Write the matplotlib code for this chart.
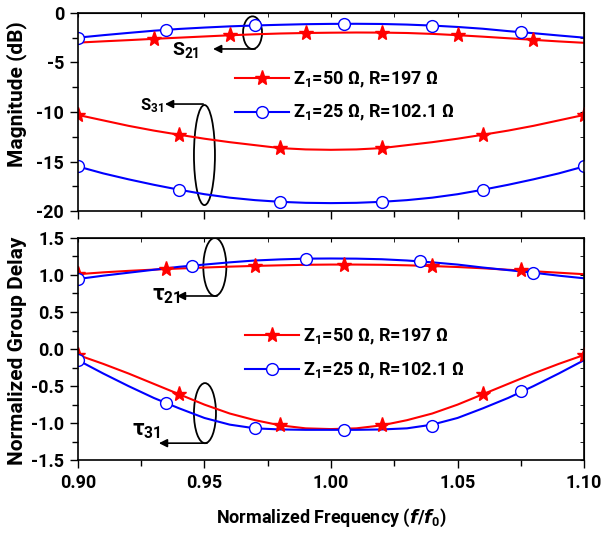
import numpy as np
import matplotlib
matplotlib.use('Agg')
import matplotlib.pyplot as plt
from matplotlib.patches import Ellipse
from matplotlib.lines import Line2D

plt.rcParams['font.family'] = ['Roboto', 'Liberation Sans', 'DejaVu Sans']
plt.rcParams['font.weight'] = 'bold'
plt.rcParams['axes.labelweight'] = 'bold'
plt.rcParams['axes.unicode_minus'] = False
plt.rcParams['mathtext.fontset'] = 'custom'
plt.rcParams['mathtext.rm'] = 'Roboto:bold'
plt.rcParams['mathtext.it'] = 'DejaVu Sans:bold:oblique'
plt.rcParams['mathtext.bf'] = 'Roboto:bold'
plt.rcParams['mathtext.default'] = 'rm'

# normalized frequency grid for the curves
freq = [0.90, 0.91, 0.92, 0.93, 0.94, 0.95, 0.96, 0.97, 0.98, 0.99, 1.00,
        1.01, 1.02, 1.03, 1.04, 1.05, 1.06, 1.07, 1.08, 1.09, 1.10]

# magnitude (dB)
s21_z50 = [-3.0, -2.87, -2.75, -2.62, -2.5, -2.38, -2.26, -2.16, -2.08, -2.03, -2.0,
           -1.98, -1.99, -2.03, -2.12, -2.25, -2.4, -2.56, -2.72, -2.88, -3.02]
s21_z25 = [-2.5, -2.25, -2.02, -1.8, -1.62, -1.48, -1.36, -1.27, -1.2, -1.14, -1.11,
           -1.1, -1.12, -1.18, -1.28, -1.42, -1.6, -1.84, -2.05, -2.28, -2.5]
s31_z50 = [-10.3, -10.85, -11.4, -11.88, -12.3, -12.7, -13.05, -13.35, -13.65, -13.78, -13.82,
           -13.78, -13.65, -13.35, -13.05, -12.7, -12.3, -11.88, -11.4, -10.85, -10.3]
s31_z25 = [-15.5, -16.2, -16.8, -17.35, -17.85, -18.3, -18.65, -18.9, -19.07, -19.17, -19.2,
           -19.17, -19.07, -18.9, -18.65, -18.3, -17.85, -17.35, -16.8, -16.2, -15.5]

# normalized group delay
t21_z50 = [1.01, 1.035, 1.055, 1.072, 1.087, 1.1, 1.112, 1.122, 1.13, 1.137, 1.14,
           1.14, 1.137, 1.13, 1.12, 1.107, 1.09, 1.07, 1.05, 1.03, 1.01]
t21_z25 = [0.945, 0.99, 1.03, 1.07, 1.11, 1.14, 1.17, 1.195, 1.21, 1.22, 1.222,
           1.22, 1.212, 1.195, 1.17, 1.14, 1.1, 1.065, 1.03, 0.99, 0.955]
t31_z50 = [-0.08, -0.2, -0.33, -0.47, -0.61, -0.75, -0.87, -0.96, -1.03, -1.07, -1.08,
           -1.07, -1.03, -0.96, -0.87, -0.75, -0.61, -0.47, -0.33, -0.2, -0.08]
t31_z25 = [-0.15, -0.33, -0.5, -0.66, -0.8, -0.93, -1.02, -1.07, -1.085, -1.09, -1.09,
           -1.09, -1.085, -1.07, -1.02, -0.93, -0.8, -0.66, -0.5, -0.33, -0.15]

# marker positions
s21_z50_mx = [0.93, 0.96, 0.99, 1.02, 1.05, 1.08]
s21_z50_my = [-2.62, -2.26, -2.03, -1.99, -2.25, -2.72]
s21_z25_mx = [0.90, 0.935, 0.97, 1.005, 1.04, 1.075]
s21_z25_my = [-2.5, -1.71, -1.27, -1.1, -1.28, -1.95]
s31_z50_mx = [0.90, 0.94, 0.98, 1.02, 1.06, 1.10]
s31_z50_my = [-10.3, -12.3, -13.65, -13.65, -12.3, -10.3]
s31_z25_mx = [0.90, 0.94, 0.98, 1.02, 1.06, 1.10]
s31_z25_my = [-15.5, -17.85, -19.07, -19.07, -17.85, -15.5]
t21_z50_mx = [0.90, 0.935, 0.97, 1.005, 1.04, 1.075]
t21_z50_my = [1.01, 1.08, 1.122, 1.14, 1.12, 1.06]
t21_z25_mx = [0.90, 0.945, 0.99, 1.035, 1.08]
t21_z25_my = [0.945, 1.125, 1.22, 1.183, 1.03]
t31_z50_mx = [0.90, 0.94, 0.98, 1.02, 1.06, 1.10]
t31_z50_my = [-0.08, -0.61, -1.03, -1.03, -0.61, -0.08]
t31_z25_mx = [0.90, 0.935, 0.97, 1.005, 1.04, 1.075]
t31_z25_my = [-0.15, -0.73, -1.07, -1.09, -1.045, -0.57]

labels = ['Z$_1$=50 Ω, R=197 Ω', 'Z$_1$=25 Ω, R=102.1 Ω']

red = '#ff0000'
blue = '#0000ff'
lw = 1.5
star = dict(marker='*', markersize=11, color=red, markeredgecolor=red, linestyle='none')
circ = dict(marker='o', markersize=8.5, markerfacecolor='white', markeredgecolor=blue,
            markeredgewidth=1.0, linestyle='none')

fig = plt.figure(figsize=(6.04, 5.37), dpi=100)
ax1 = fig.add_axes([0.129, 0.607, 0.838, 0.369])
ax2 = fig.add_axes([0.129, 0.143, 0.838, 0.414])

ax1.plot(freq, s21_z50, color=red, lw=lw)
ax1.plot(freq, s21_z25, color=blue, lw=lw)
ax1.plot(freq, s31_z50, color=red, lw=lw)
ax1.plot(freq, s31_z25, color=blue, lw=lw)
ax1.plot(s21_z50_mx, s21_z50_my, **star)
ax1.plot(s21_z25_mx, s21_z25_my, **circ)
ax1.plot(s31_z50_mx, s31_z50_my, **star)
ax1.plot(s31_z25_mx, s31_z25_my, **circ)

ax2.plot(freq, t21_z50, color=red, lw=lw)
ax2.plot(freq, t21_z25, color=blue, lw=lw)
ax2.plot(freq, t31_z50, color=red, lw=lw)
ax2.plot(freq, t31_z25, color=blue, lw=lw)
ax2.plot(t21_z50_mx, t21_z50_my, **star)
ax2.plot(t21_z25_mx, t21_z25_my, **circ)
ax2.plot(t31_z50_mx, t31_z50_my, **star)
ax2.plot(t31_z25_mx, t31_z25_my, **circ)

handles = [Line2D([], [], color=red, lw=lw, marker='*', markersize=11),
           Line2D([], [], color=blue, lw=lw, marker='o', markersize=8.5,
                  markerfacecolor='white', markeredgecolor=blue)]
for ax, anchor in [(ax1, (0.31, 0.578)), (ax2, (0.33, 0.478))]:
    ax.legend(handles, labels, loc='center left', bbox_to_anchor=anchor, frameon=False,
              prop={'size': 13, 'weight': 'bold'}, handlelength=3.0, handletextpad=0.2,
              labelspacing=0.75, borderpad=0, borderaxespad=0)

ax1.set_xlim(0.90, 1.10)
ax1.set_ylim(-20, 0)
ax1.set_yticks([-20, -15, -10, -5, 0])
ax1.set_yticks([-17.5, -12.5, -7.5, -2.5], minor=True)
ax2.set_xlim(0.90, 1.10)
ax2.set_ylim(-1.5, 1.5)
ax2.set_yticks([-1.5, -1.0, -0.5, 0.0, 0.5, 1.0, 1.5])
ax2.set_yticks([-1.25, -0.75, -0.25, 0.25, 0.75, 1.25], minor=True)
ax2.yaxis.set_major_formatter(matplotlib.ticker.FormatStrFormatter('%.1f'))
for ax in (ax1, ax2):
    ax.set_xticks([0.90, 0.95, 1.00, 1.05, 1.10])
    ax.set_xticks([0.925, 0.975, 1.025, 1.075], minor=True)
    ax.xaxis.set_major_formatter(matplotlib.ticker.FormatStrFormatter('%.2f'))
    ax.tick_params(which='major', direction='out', length=6, width=1, labelsize=13, pad=4)
    ax.tick_params(which='minor', direction='out', length=4, width=1)
    for t in ax.get_xticklabels() + ax.get_yticklabels():
        t.set_fontweight('bold')
    for sp in ax.spines.values():
        sp.set_linewidth(1.2)
    sec = ax.secondary_xaxis('top')
    sec.set_xticks(ax.get_xticks())
    sec.set_xticks([0.925, 0.975, 1.025, 1.075], minor=True)
    sec.tick_params(which='both', direction='in', length=3, labeltop=False)
    sec2 = ax.secondary_yaxis('right')
    sec2.set_yticks(ax.get_yticks())
    sec2.set_yticks(ax.get_yticks(minor=True), minor=True)
    sec2.tick_params(which='both', direction='in', length=3, labelright=False)
ax1.tick_params(labelbottom=False)

ax1.set_ylabel('Magnitude (dB)', fontsize=15, fontweight='bold')
ax1.yaxis.set_label_coords(-0.10, 0.59)
ax2.set_ylabel('Normalized Group Delay', fontsize=15, fontweight='bold')
ax2.yaxis.set_label_coords(-0.10, 0.49)
ax2.set_xlabel(r'Normalized Frequency ($\mathit{f}$/$\mathit{f}_0$)', fontsize=13,
               fontweight='bold')
ax2.xaxis.set_label_coords(0.5, -0.21)

# ellipses and arrows marking the curve groups
arrow = dict(arrowstyle='-|>', color='k', lw=1.2, mutation_scale=12, shrinkA=0, shrinkB=0)
ax1.add_patch(Ellipse((0.969, -2.0), 0.0075, 3.3, fill=False, lw=1.3, ec='k'))
ax1.annotate('', xy=(0.9534, -3.64), xytext=(0.970, -3.64), arrowprops=arrow)
ax1.text(0.9372, -4.2, 'S$_{21}$', fontsize=14, fontweight='bold', va='baseline', ha='left')
ax1.add_patch(Ellipse((0.950, -14.35), 0.0083, 10.1, fill=False, lw=1.3, ec='k'))
ax1.annotate('', xy=(0.9344, -9.2), xytext=(0.9495, -9.2), arrowprops=arrow)
ax1.text(0.9245, -9.8, 'S$_{31}$', fontsize=12, fontweight='bold', va='baseline', ha='left')

ax2.add_patch(Ellipse((0.9541, 1.108), 0.0091, 0.784, fill=False, lw=1.3, ec='k'))
ax2.annotate('', xy=(0.9391, 0.716), xytext=(0.955, 0.716), arrowprops=arrow)
ax2.text(0.9292, 0.662, 'τ$_{21}$', fontsize=16, fontweight='bold', va='baseline', ha='left')
ax2.add_patch(Ellipse((0.9502, -0.865), 0.0087, 0.811, fill=False, lw=1.3, ec='k'))
ax2.annotate('', xy=(0.932, -1.27), xytext=(0.951, -1.27), arrowprops=arrow)
ax2.text(0.9213, -1.162, 'τ$_{31}$', fontsize=16, fontweight='bold', va='baseline', ha='left')

fig.savefig('out.png', dpi=100)
